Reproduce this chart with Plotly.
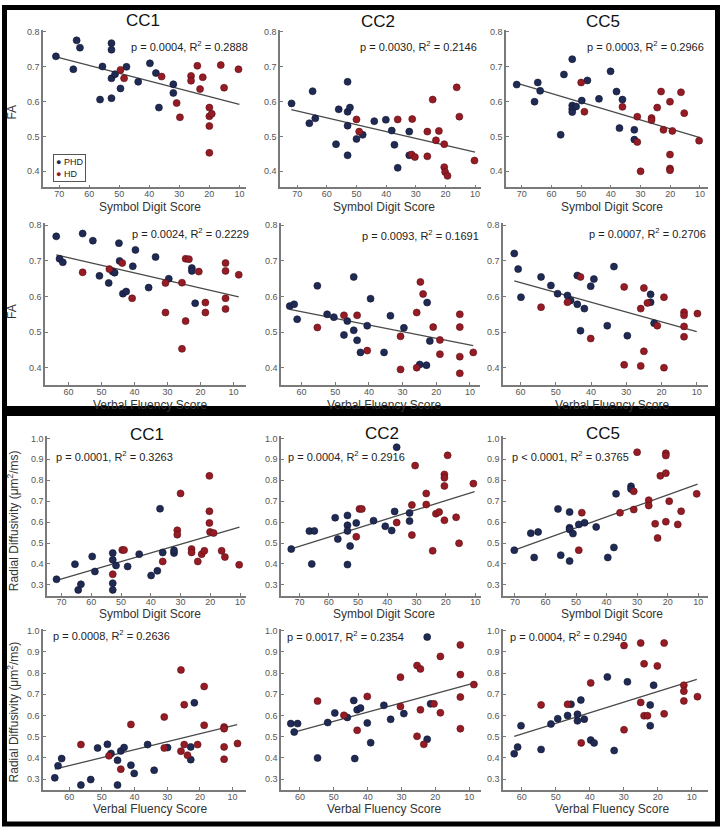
import plotly.graph_objects as go

W, H = 723, 832

# ---------------- data ----------------
# Row 1: FA vs Symbol Digit Score
fa_sds_cc1_phd_x = [71.1, 64.2, 63.1, 65.3, 52.6, 52.6, 55.6, 56.4, 52.6, 52.6, 51.4, 49.6, 47.6, 43.7, 39.8, 37.8, 36.8, 32, 32]
fa_sds_cc1_phd_y = [0.730, 0.776, 0.755, 0.693, 0.768, 0.749, 0.701, 0.606, 0.610, 0.667, 0.679, 0.638, 0.700, 0.657, 0.710, 0.682, 0.583, 0.650, 0.625]
fa_sds_cc1_hd_x = [49.6, 48.4, 35.9, 30.9, 29.8, 26.1, 26.1, 24, 23.1, 22.2, 20, 20, 19.2, 20, 20, 16.2, 15.1, 10.3]
fa_sds_cc1_hd_y = [0.691, 0.667, 0.672, 0.596, 0.555, 0.674, 0.660, 0.703, 0.636, 0.670, 0.583, 0.558, 0.565, 0.530, 0.453, 0.705, 0.640, 0.693]
fa_sds_cc1_fit_x = [72, 10]
fa_sds_cc1_fit_y = [0.731, 0.592]

fa_sds_cc2_phd_x = [71.9, 65.9, 64.8, 63.9, 56.9, 56, 53, 53, 52.2, 53, 53, 50, 47.9, 44, 40.1, 38.1, 37.2, 36.1, 32.2, 32.2]
fa_sds_cc2_phd_y = [0.595, 0.538, 0.630, 0.552, 0.478, 0.578, 0.657, 0.571, 0.583, 0.531, 0.446, 0.493, 0.505, 0.544, 0.548, 0.517, 0.476, 0.410, 0.514, 0.446]
fa_sds_cc2_hd_x = [50, 49.1, 36.1, 31.2, 31.4, 30.3, 26.1, 26.1, 24.3, 23.2, 22.2, 20.4, 20.4, 20.1, 19.3, 16.2, 15.3, 10.2]
fa_sds_cc2_hd_y = [0.549, 0.514, 0.549, 0.550, 0.448, 0.441, 0.514, 0.443, 0.606, 0.489, 0.516, 0.478, 0.412, 0.398, 0.387, 0.641, 0.557, 0.431]
fa_sds_cc2_fit_x = [72, 10]
fa_sds_cc2_fit_y = [0.577, 0.455]

fa_sds_cc5_phd_x = [71.7, 65.7, 64.6, 63.8, 56.9, 55.8, 53, 53, 53, 53, 51.7, 49.8, 47.9, 44, 40.1, 38.1, 36.1, 37.1, 32.1, 32.1]
fa_sds_cc5_phd_y = [0.649, 0.600, 0.655, 0.631, 0.505, 0.678, 0.722, 0.589, 0.579, 0.570, 0.586, 0.603, 0.661, 0.608, 0.687, 0.629, 0.606, 0.524, 0.519, 0.491]
fa_sds_cc5_hd_x = [50, 48.9, 36.1, 31.1, 31.1, 30, 26.3, 26.3, 24.4, 23.1, 22.3, 20.1, 20.1, 20.1, 20.1, 19.3, 16.4, 15.3, 10.3]
fa_sds_cc5_hd_y = [0.655, 0.571, 0.585, 0.557, 0.484, 0.400, 0.553, 0.547, 0.583, 0.629, 0.519, 0.600, 0.448, 0.408, 0.403, 0.516, 0.627, 0.567, 0.488]
fa_sds_cc5_fit_x = [72, 10]
fa_sds_cc5_fit_y = [0.654, 0.497]

# Row 2: FA vs Verbal Fluency Score
fa_vfs_cc1_phd_x = [63.7, 62.7, 61.7, 55.7, 52.6, 50.6, 47.8, 46.6, 46.0, 44.7, 44.5, 43.5, 42.5, 40.5, 39.7, 35.7, 33.6, 29.6, 22.6, 22.6, 21.6]
fa_vfs_cc1_phd_y = [0.769, 0.706, 0.696, 0.777, 0.757, 0.658, 0.638, 0.670, 0.667, 0.750, 0.700, 0.608, 0.614, 0.685, 0.731, 0.625, 0.711, 0.650, 0.680, 0.672, 0.581]
fa_vfs_cc1_hd_x = [55.7, 47.6, 43.7, 40.7, 30.6, 30.6, 25.6, 25.6, 24.5, 23.5, 24.5, 20.5, 18.5, 18.5, 12.4, 12.4, 12.4, 12.4, 8.4]
fa_vfs_cc1_hd_y = [0.668, 0.677, 0.694, 0.595, 0.638, 0.555, 0.639, 0.453, 0.706, 0.705, 0.531, 0.670, 0.583, 0.555, 0.694, 0.672, 0.595, 0.565, 0.661]
fa_vfs_cc1_fit_x = [63.7, 8.4]
fa_vfs_cc1_fit_y = [0.717, 0.599]

fa_vfs_cc2_phd_x = [63.5, 62.2, 61.3, 55.3, 52.4, 50.4, 47.4, 46.4, 44.5, 44.5, 43.5, 42.5, 40.5, 39.5, 35.5, 33.6, 29.6, 24.9, 22.7, 21.9, 22.9]
fa_vfs_cc2_phd_y = [0.573, 0.578, 0.536, 0.630, 0.550, 0.542, 0.492, 0.531, 0.655, 0.505, 0.477, 0.443, 0.518, 0.594, 0.443, 0.546, 0.512, 0.409, 0.583, 0.475, 0.407]
fa_vfs_cc2_hd_x = [55.3, 47.4, 43.5, 40.5, 30.6, 30.6, 25.8, 25.8, 24.7, 23.9, 20.9, 18.9, 18.9, 13, 13, 13, 13, 9]
fa_vfs_cc2_hd_y = [0.513, 0.547, 0.547, 0.448, 0.488, 0.395, 0.555, 0.400, 0.641, 0.607, 0.514, 0.478, 0.438, 0.550, 0.514, 0.431, 0.384, 0.443]
fa_vfs_cc2_fit_x = [63.5, 9]
fa_vfs_cc2_fit_y = [0.564, 0.462]

fa_vfs_cc5_phd_x = [61.8, 60.7, 59.9, 54.2, 51.4, 49.5, 46.7, 45.8, 43.9, 43.9, 43, 41.9, 40.1, 39.2, 35.4, 33.5, 29.7, 23.1, 23.1, 22.1]
fa_vfs_cc5_phd_y = [0.721, 0.677, 0.598, 0.655, 0.631, 0.608, 0.603, 0.589, 0.659, 0.578, 0.504, 0.566, 0.629, 0.649, 0.518, 0.684, 0.490, 0.606, 0.584, 0.525]
fa_vfs_cc5_hd_x = [54.2, 46.7, 43, 40.1, 30.6, 30.6, 25.9, 25.9, 25, 25, 24, 21.2, 19.3, 19.3, 13.6, 13.6, 13.6, 13.6, 9.8]
fa_vfs_cc5_hd_y = [0.570, 0.584, 0.655, 0.482, 0.627, 0.408, 0.566, 0.405, 0.624, 0.446, 0.582, 0.518, 0.598, 0.400, 0.556, 0.547, 0.516, 0.487, 0.552]
fa_vfs_cc5_fit_x = [61.8, 10]
fa_vfs_cc5_fit_y = [0.644, 0.501]

# Row 3: Radial Diffusivity vs Symbol Digit Score
rd_sds_cc1_phd_x = [71.7, 65.5, 64.4, 63.5, 59.7, 58.8, 52.8, 52.8, 52.8, 52.8, 51.7, 47.8, 43.9, 39.9, 37.8, 36.9, 36, 32.2, 32.2]
rd_sds_cc1_phd_y = [0.327, 0.399, 0.276, 0.303, 0.436, 0.364, 0.452, 0.420, 0.308, 0.276, 0.393, 0.388, 0.447, 0.345, 0.367, 0.664, 0.455, 0.452, 0.465]
rd_sds_cc1_hd_x = [52.8, 49.6, 49, 36, 31.1, 31.1, 30, 26.3, 26.3, 24.2, 22.9, 22, 20.3, 20.3, 20.3, 20.1, 18.9, 16.2, 15.1, 10.3]
rd_sds_cc1_hd_y = [0.351, 0.467, 0.467, 0.412, 0.561, 0.540, 0.737, 0.471, 0.455, 0.412, 0.447, 0.463, 0.821, 0.652, 0.596, 0.553, 0.548, 0.463, 0.433, 0.396]
rd_sds_cc1_fit_x = [71.7, 10.2]
rd_sds_cc1_fit_y = [0.321, 0.576]

rd_sds_cc2_phd_x = [72.8, 66.6, 64.9, 65.8, 57.8, 56.9, 53.6, 53.6, 53.6, 53.6, 52.7, 50.6, 44.7, 40.7, 38.5, 37.5, 36.8, 32.4, 32.4]
rd_sds_cc2_phd_y = [0.471, 0.557, 0.558, 0.400, 0.621, 0.519, 0.632, 0.585, 0.558, 0.397, 0.486, 0.596, 0.607, 0.580, 0.560, 0.651, 0.958, 0.605, 0.644]
rd_sds_cc2_hd_x = [50.6, 49.5, 48.7, 36.8, 31.6, 31.6, 30.5, 26.7, 26.7, 24.5, 23.4, 22.3, 20.5, 20.5, 20.5, 20.5, 19.4, 16.5, 15.5, 10.6]
rd_sds_cc2_hd_y = [0.530, 0.663, 0.663, 0.598, 0.682, 0.538, 0.870, 0.737, 0.684, 0.463, 0.640, 0.648, 0.828, 0.812, 0.773, 0.609, 0.919, 0.623, 0.499, 0.784]
rd_sds_cc2_fit_x = [72.8, 10.2]
rd_sds_cc2_fit_y = [0.472, 0.746]

rd_sds_cc5_phd_x = [70.2, 64.8, 62.4, 63.7, 55.9, 55, 52.1, 52.1, 52.1, 52.1, 51, 49.1, 47.2, 43.4, 39.6, 37.6, 36.9, 32, 32]
rd_sds_cc5_phd_y = [0.466, 0.547, 0.553, 0.431, 0.663, 0.442, 0.648, 0.573, 0.565, 0.414, 0.545, 0.589, 0.597, 0.577, 0.431, 0.479, 0.735, 0.771, 0.758]
rd_sds_cc5_hd_x = [49.1, 48.1, 35.6, 31.1, 31.1, 30, 26.2, 26.2, 24.1, 23.3, 22.4, 20.6, 20.6, 20.6, 20.6, 19.5, 16.7, 15.6, 10.5]
rd_sds_cc5_hd_y = [0.466, 0.645, 0.645, 0.747, 0.660, 0.934, 0.705, 0.679, 0.592, 0.524, 0.821, 0.929, 0.918, 0.834, 0.602, 0.700, 0.589, 0.652, 0.735]
rd_sds_cc5_fit_x = [70.2, 10.2]
rd_sds_cc5_fit_y = [0.466, 0.782]

# Row 4: Radial Diffusivity vs Verbal Fluency Score
rd_vfs_cc1_phd_x = [64.4, 63.4, 62.3, 56.4, 53.4, 51.3, 48.3, 47.2, 45.2, 45.2, 44.2, 43.2, 41.1, 40.1, 36, 34, 29.9, 22.8, 22.8, 21.7]
rd_vfs_cc1_phd_y = [0.306, 0.363, 0.397, 0.272, 0.298, 0.447, 0.464, 0.421, 0.272, 0.389, 0.433, 0.449, 0.366, 0.327, 0.463, 0.342, 0.449, 0.452, 0.392, 0.660]
rd_vfs_cc1_hd_x = [56.4, 47.8, 44.2, 41.1, 30.9, 30.9, 25.8, 25.8, 24.8, 24.8, 23.8, 20.7, 18.7, 18.7, 12.6, 12.6, 12.6, 12.6, 8.5]
rd_vfs_cc1_hd_y = [0.463, 0.410, 0.347, 0.558, 0.593, 0.447, 0.815, 0.432, 0.651, 0.463, 0.413, 0.463, 0.737, 0.554, 0.546, 0.538, 0.452, 0.394, 0.468]
rd_vfs_cc1_fit_x = [64.4, 8.6]
rd_vfs_cc1_fit_y = [0.347, 0.557]

rd_vfs_cc2_phd_x = [62.7, 60.7, 61.7, 54.8, 51.8, 49.7, 46, 44.1, 43.8, 43.1, 42.1, 40.1, 39.1, 35.2, 33.2, 29.3, 22.4, 22.4, 21.4]
rd_vfs_cc2_phd_y = [0.562, 0.562, 0.522, 0.400, 0.567, 0.612, 0.591, 0.671, 0.397, 0.627, 0.635, 0.565, 0.472, 0.648, 0.582, 0.609, 0.970, 0.488, 0.655]
rd_vfs_cc2_hd_x = [54.8, 47, 43.1, 40.1, 30.3, 30.3, 25.4, 25.4, 24.4, 24.4, 23.4, 20.4, 18.5, 18.5, 12.6, 12.6, 12.6, 12.6, 8.6]
rd_vfs_cc2_hd_y = [0.668, 0.601, 0.530, 0.690, 0.781, 0.643, 0.836, 0.502, 0.820, 0.627, 0.464, 0.655, 0.879, 0.613, 0.933, 0.793, 0.687, 0.538, 0.746]
rd_vfs_cc2_fit_x = [61.7, 8.6]
rd_vfs_cc2_fit_y = [0.522, 0.753]

rd_vfs_cc5_phd_x = [62.2, 61.2, 60.2, 54.3, 51.4, 49.4, 46.5, 45.5, 43.6, 43.6, 42.6, 41.6, 39.7, 38.7, 34.8, 32.8, 28.9, 22.2, 22.2, 21.2]
rd_vfs_cc5_phd_y = [0.420, 0.451, 0.552, 0.440, 0.560, 0.585, 0.600, 0.653, 0.606, 0.575, 0.673, 0.583, 0.484, 0.471, 0.782, 0.435, 0.759, 0.650, 0.552, 0.743]
rd_vfs_cc5_hd_x = [54.3, 46.5, 42.5, 39.7, 29.9, 29.9, 25, 25, 24, 24, 23, 20.1, 18.1, 18.1, 12.3, 12.3, 12.3, 8.3]
rd_vfs_cc5_hd_y = [0.650, 0.653, 0.471, 0.754, 0.930, 0.533, 0.942, 0.662, 0.844, 0.599, 0.599, 0.834, 0.942, 0.608, 0.743, 0.715, 0.669, 0.689]
rd_vfs_cc5_fit_x = [62.2, 8.5]
rd_vfs_cc5_fit_y = [0.502, 0.770]

region_titles = ["CC1", "CC2", "CC5"]
group_names = ["PHD", "HD"]
p_texts = [
    "p = 0.0004, R<sup>2</sup> = 0.2888", "p = 0.0030, R<sup>2</sup> = 0.2146", "p = 0.0003, R<sup>2</sup> = 0.2966",
    "p = 0.0024, R<sup>2</sup> = 0.2229", "p = 0.0093, R<sup>2</sup> = 0.1691", "p = 0.0007, R<sup>2</sup> = 0.2706",
    "p = 0.0001, R<sup>2</sup> = 0.3263", "p = 0.0004, R<sup>2</sup> = 0.2916", "p < 0.0001, R<sup>2</sup> = 0.3765",
    "p = 0.0008, R<sup>2</sup> = 0.2636", "p = 0.0017, R<sup>2</sup> = 0.2354", "p = 0.0004, R<sup>2</sup> = 0.2940",
]
x_titles = ["Symbol Digit Score", "Verbal Fluency Score", "Symbol Digit Score", "Verbal Fluency Score"]
y_titles = ["FA", "FA", "Radial Diffusivity (μm<sup>2</sup>/ms)", "Radial Diffusivity (μm<sup>2</sup>/ms)"]
sds_ticks = [70, 60, 50, 40, 30, 20, 10]
vfs_ticks = [60, 50, 40, 30, 20, 10]
fa_ticks = [0.4, 0.5, 0.6, 0.7, 0.8]
rd_ticks = [0.3, 0.4, 0.5, 0.6, 0.7, 0.8, 0.9, 1.0]

panels = [
    (fa_sds_cc1_phd_x, fa_sds_cc1_phd_y, fa_sds_cc1_hd_x, fa_sds_cc1_hd_y, fa_sds_cc1_fit_x, fa_sds_cc1_fit_y),
    (fa_sds_cc2_phd_x, fa_sds_cc2_phd_y, fa_sds_cc2_hd_x, fa_sds_cc2_hd_y, fa_sds_cc2_fit_x, fa_sds_cc2_fit_y),
    (fa_sds_cc5_phd_x, fa_sds_cc5_phd_y, fa_sds_cc5_hd_x, fa_sds_cc5_hd_y, fa_sds_cc5_fit_x, fa_sds_cc5_fit_y),
    (fa_vfs_cc1_phd_x, fa_vfs_cc1_phd_y, fa_vfs_cc1_hd_x, fa_vfs_cc1_hd_y, fa_vfs_cc1_fit_x, fa_vfs_cc1_fit_y),
    (fa_vfs_cc2_phd_x, fa_vfs_cc2_phd_y, fa_vfs_cc2_hd_x, fa_vfs_cc2_hd_y, fa_vfs_cc2_fit_x, fa_vfs_cc2_fit_y),
    (fa_vfs_cc5_phd_x, fa_vfs_cc5_phd_y, fa_vfs_cc5_hd_x, fa_vfs_cc5_hd_y, fa_vfs_cc5_fit_x, fa_vfs_cc5_fit_y),
    (rd_sds_cc1_phd_x, rd_sds_cc1_phd_y, rd_sds_cc1_hd_x, rd_sds_cc1_hd_y, rd_sds_cc1_fit_x, rd_sds_cc1_fit_y),
    (rd_sds_cc2_phd_x, rd_sds_cc2_phd_y, rd_sds_cc2_hd_x, rd_sds_cc2_hd_y, rd_sds_cc2_fit_x, rd_sds_cc2_fit_y),
    (rd_sds_cc5_phd_x, rd_sds_cc5_phd_y, rd_sds_cc5_hd_x, rd_sds_cc5_hd_y, rd_sds_cc5_fit_x, rd_sds_cc5_fit_y),
    (rd_vfs_cc1_phd_x, rd_vfs_cc1_phd_y, rd_vfs_cc1_hd_x, rd_vfs_cc1_hd_y, rd_vfs_cc1_fit_x, rd_vfs_cc1_fit_y),
    (rd_vfs_cc2_phd_x, rd_vfs_cc2_phd_y, rd_vfs_cc2_hd_x, rd_vfs_cc2_hd_y, rd_vfs_cc2_fit_x, rd_vfs_cc2_fit_y),
    (rd_vfs_cc5_phd_x, rd_vfs_cc5_phd_y, rd_vfs_cc5_hd_x, rd_vfs_cc5_hd_y, rd_vfs_cc5_fit_x, rd_vfs_cc5_fit_y),
]

# ---------------- layout geometry (pixels) ----------------
x_dom_px = [[43, 246], [280, 481], [506, 708],
            [45, 246], [281, 480], [503, 708],
            [47, 246], [281, 481], [503, 708],
            [43, 246], [281, 481], [503, 708]]
x_rng = [[75.4, 7.8], [75.8, 8.0], [75.3, 7.3],
         [67.1, 6.2], [66.1, 7.0], [65.0, 6.8],
         [74.9, 8.0], [76.3, 8.0], [73.9, 6.8],
         [68.0, 5.9], [65.6, 6.5], [65.5, 5.2]]
y_dom_px = [[27, 185], [221, 383.5], [435, 595], [628, 790]]
y_rng = [[0.354, 0.806], [0.351, 0.806], [0.2476, 1.0095], [0.248, 1.0094]]

title_pos = [(143, 18), (378, 19), (603, 19), (147, 433), (382, 432), (603, 432)]
p_pos = [(189, 43), (418, 43), (645, 43),
         (190, 231), (420, 233), (647, 231),
         (114, 455), (346, 455), (570, 455),
         (111, 634), (345, 635), (568, 635)]
xt_y = [205, 403, 613, 809]
col_center = [150, 384, 612]
yt_pos = [(12, 110), (12, 310), (13, 520), (13, 712)]
legend_box = (53, 152)   # top-left corner of legend box

NAVY = "#1f2a55"
RED = "#951c25"
AX = "#7a7a7a"
FONT = "Liberation Sans, Arial, sans-serif"

fig = go.Figure()
annotations = []
layout_axes = {}

for i, (px_, py_, hx, hy, fx, fy) in enumerate(panels):
    r, c = divmod(i, 3)
    k = "" if i == 0 else str(i + 1)
    xa, ya = "x" + k, "y" + k
    fig.add_trace(go.Scatter(x=fx, y=fy, mode="lines", line=dict(color="#4a4a4a", width=1.3),
                             xaxis=xa, yaxis=ya, showlegend=False, hoverinfo="skip"))
    fig.add_trace(go.Scatter(x=px_, y=py_, mode="markers", name=group_names[0],
                             marker=dict(size=7, color=NAVY, line=dict(color="#10162e", width=0.6)),
                             xaxis=xa, yaxis=ya, showlegend=False))
    fig.add_trace(go.Scatter(x=hx, y=hy, mode="markers", name=group_names[1],
                             marker=dict(size=7, color=RED, line=dict(color="#5a0e14", width=0.6)),
                             xaxis=xa, yaxis=ya, showlegend=False))
    x0, x1 = x_dom_px[i]
    y0, y1 = y_dom_px[r]
    sds = r in (0, 2)
    layout_axes["xaxis" + k] = dict(
        domain=[x0 / W, x1 / W], anchor=ya, range=x_rng[i],
        tickvals=sds_ticks if sds else vfs_ticks,
        showline=True, linecolor=AX, linewidth=1.5, ticks="inside", ticklen=3, tickcolor=AX,
        ticklabelstandoff=-3,
        tickfont=dict(size=9, color="#555", family=FONT), showgrid=False, zeroline=False)
    layout_axes["yaxis" + k] = dict(
        domain=[1 - y1 / H, 1 - y0 / H], anchor=xa, range=y_rng[r],
        tickvals=fa_ticks if r < 2 else rd_ticks, tickformat=".1f",
        showline=True, linecolor=AX, linewidth=1.5, ticks="inside", ticklen=3, tickcolor=AX,
        tickfont=dict(size=9, color="#555", family=FONT), showgrid=False, zeroline=False)
    annotations.append(dict(x=p_pos[i][0] / W, y=1 - p_pos[i][1] / H, xref="paper", yref="paper",
                            text=p_texts[i], showarrow=False, xanchor="center", yanchor="middle",
                            font=dict(size=11, color="#222", family=FONT)))
    annotations.append(dict(x=col_center[c] / W, y=1 - xt_y[r] / H, xref="paper", yref="paper",
                            text=x_titles[r], showarrow=False, xanchor="center", yanchor="middle",
                            font=dict(size=12, color="#333", family=FONT)))

for j, (tx, ty) in enumerate(title_pos):
    annotations.append(dict(x=tx / W, y=1 - ty / H, xref="paper", yref="paper",
                            text=region_titles[j % 3], showarrow=False, xanchor="center", yanchor="middle",
                            font=dict(size=17, color="#111", family=FONT)))
for r in range(4):
    annotations.append(dict(x=yt_pos[r][0] / W, y=1 - yt_pos[r][1] / H, xref="paper", yref="paper",
                            text=y_titles[r], showarrow=False, textangle=-90,
                            xanchor="center", yanchor="middle",
                            font=dict(size=12, color="#333", family=FONT)))

# compact boxed legend in the first panel
legend_text = (f"<span style='color:{NAVY}'>●</span> {group_names[0]}<br>"
               f"<span style='color:{RED}'>●</span> {group_names[1]}")
annotations.append(dict(x=legend_box[0] / W, y=1 - legend_box[1] / H, xref="paper", yref="paper",
                        text=legend_text, showarrow=False, xanchor="left", yanchor="top", align="left",
                        bordercolor="#555", borderwidth=1, borderpad=2, bgcolor="white",
                        font=dict(size=9, color="#222", family=FONT)))

shapes = [
    dict(type="rect", xref="paper", yref="paper", x0=4.5 / W, x1=717.5 / W,
         y0=1 - 407 / H, y1=1 - 4.5 / H, line=dict(color="black", width=5)),
    dict(type="rect", xref="paper", yref="paper", x0=4.5 / W, x1=717.5 / W,
         y0=1 - 824 / H, y1=1 - 412 / H, line=dict(color="black", width=5)),
]

fig.update_layout(
    width=W, height=H, margin=dict(l=0, r=0, t=0, b=0),
    paper_bgcolor="white", plot_bgcolor="white",
    font=dict(family=FONT), showlegend=False,
    annotations=annotations, shapes=shapes,
    **layout_axes,
)

fig.write_html("out.html", config={"displayModeBar": False},
               post_script="document.body.style.margin='0';")
